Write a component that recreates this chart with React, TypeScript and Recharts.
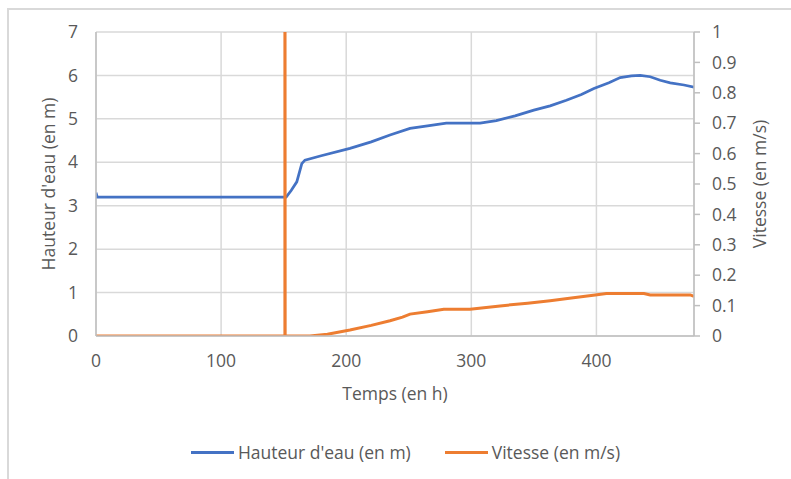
import React from "react";
import {
  ComposedChart,
  Line,
  XAxis,
  YAxis,
  CartesianGrid,
  Legend,
} from "recharts";

// Hauteur d'eau (m) en fonction du temps (h)
const hauteurTemps = [
  0, 1, 152, 156, 160.5, 164.5, 167, 180, 203, 220, 235, 251, 265, 280, 307, 320,
  335, 350, 363, 376, 388, 398, 410, 419, 428, 435, 443, 451, 459, 470, 478,
];
const hauteurValeurs = [
  3.3, 3.2, 3.2, 3.35, 3.55, 3.97, 4.05, 4.15, 4.32, 4.47, 4.63, 4.78, 4.84, 4.9,
  4.9, 4.96, 5.07, 5.2, 5.3, 5.43, 5.56, 5.7, 5.83, 5.95, 5.99, 6.0, 5.97, 5.89,
  5.83, 5.78, 5.73,
];

// Vitesse (m/s) en fonction du temps (h)
const vitesseTemps = [
  0, 151, 151, 151.2, 171, 185, 203, 220, 235, 245, 251, 265, 278, 299, 323, 345,
  363, 380, 399, 408, 438, 443, 475, 478,
];
const vitesseValeurs = [
  0, 0, 2, 0, 0, 0.006, 0.02, 0.035, 0.05, 0.062, 0.072, 0.08, 0.088, 0.088,
  0.099, 0.108, 0.116, 0.125, 0.135, 0.14, 0.14, 0.135, 0.135, 0.13,
];

const tempsTicks = [0, 100, 200, 300, 400];
const hauteurTicks = [0, 1, 2, 3, 4, 5, 6, 7];
const vitesseTicks = [0, 0.1, 0.2, 0.3, 0.4, 0.5, 0.6, 0.7, 0.8, 0.9, 1];

const hauteurData = hauteurTemps.map((t, i) => ({ t, h: hauteurValeurs[i] }));
const vitesseData = vitesseTemps.map((t, i) => ({ t, v: vitesseValeurs[i] }));

const BLUE = "#4472C4";
const ORANGE = "#ED7D31";
const TEXT = "#595959";
const FONT = "'Open Sans', sans-serif";
const FS = 17.5;

const legendItems = [
  { label: "Hauteur d'eau (en m)", color: BLUE },
  { label: "Vitesse (en m/s)", color: ORANGE },
];

function ChartLegend() {
  return (
    <div
      style={{
        height: 30,
        display: "flex",
        justifyContent: "center",
        alignItems: "center",
        gap: 34,
        fontFamily: FONT,
        fontSize: FS,
        color: TEXT,
        paddingLeft: 20,
      }}
    >
      {legendItems.map((item) => (
        <div key={item.label} style={{ display: "flex", alignItems: "center" }}>
          <span
            style={{
              display: "inline-block",
              width: 43,
              height: 3,
              background: item.color,
              marginRight: 4,
            }}
          />
          <span>{item.label}</span>
        </div>
      ))}
    </div>
  );
}

export default function App() {
  const tickStyle = { fontSize: FS, fill: TEXT, fontFamily: FONT };
  const titleStyle = { fontSize: FS, fill: TEXT, fontFamily: FONT };
  return (
    <div style={{ position: "absolute", left: 0, top: 0, width: 791, height: 479, background: "#fff" }}>
      <div
        style={{
          position: "absolute",
          left: 7,
          top: 8,
          width: 790,
          height: 480,
          borderLeft: "2px solid #d9d9d9",
          borderTop: "2px solid #d9d9d9",
        }}
      />
      <div style={{ position: "absolute", left: 0, top: 0 }}>
        <ComposedChart
          width={791}
          height={479}
          margin={{ top: 32, right: 0, bottom: 12, left: 0 }}
        >
          <CartesianGrid yAxisId="left" stroke="#d9d9d9" strokeWidth={1.5} />
          <XAxis
            dataKey="t"
            type="number"
            domain={[0, 478]}
            ticks={tempsTicks}
            allowDataOverflow
            height={101}
            tickLine={false}
            tickMargin={13}
            axisLine={{ stroke: "#bfbfbf", strokeWidth: 1.5 }}
            tick={tickStyle}
            label={{
              value: "Temps (en h)",
              position: "insideTop",
              offset: 52,
              style: titleStyle,
            }}
          />
          <YAxis
            yAxisId="left"
            orientation="left"
            domain={[0, 7]}
            ticks={hauteurTicks}
            width={96}
            tickLine={false}
            tickMargin={12}
            axisLine={{ stroke: "#bfbfbf", strokeWidth: 1.5 }}
            tick={tickStyle}
            label={{
              value: "Hauteur d'eau (en m)",
              angle: -90,
              position: "insideLeft",
              offset: 49,
              style: { ...titleStyle, textAnchor: "middle" },
            }}
          />
          <YAxis
            yAxisId="right"
            orientation="right"
            domain={[0, 1]}
            ticks={vitesseTicks}
            allowDataOverflow
            width={97}
            tickSize={6}
            tickMargin={12}
            tickLine={{ stroke: "#bfbfbf", strokeWidth: 1.5 }}
            axisLine={{ stroke: "#bfbfbf", strokeWidth: 1.5 }}
            tick={{ ...tickStyle, textAnchor: "start" }}
            tickFormatter={(v: number) => String(Math.round(v * 10) / 10)}
            label={{
              value: "Vitesse (en m/s)",
              angle: -90,
              position: "insideRight",
              offset: 31,
              style: { ...titleStyle, textAnchor: "middle" },
            }}
          />
          <Legend verticalAlign="bottom" content={() => <ChartLegend />} />
          <Line
            yAxisId="left"
            data={hauteurData}
            dataKey="h"
            name="Hauteur d'eau (en m)"
            type="linear"
            stroke={BLUE}
            strokeWidth={2.75}
            dot={false}
            isAnimationActive={false}
          />
          <Line
            yAxisId="right"
            data={vitesseData}
            dataKey="v"
            name="Vitesse (en m/s)"
            type="linear"
            stroke={ORANGE}
            strokeWidth={3}
            dot={false}
            isAnimationActive={false}
          />
        </ComposedChart>
      </div>
    </div>
  );
}
